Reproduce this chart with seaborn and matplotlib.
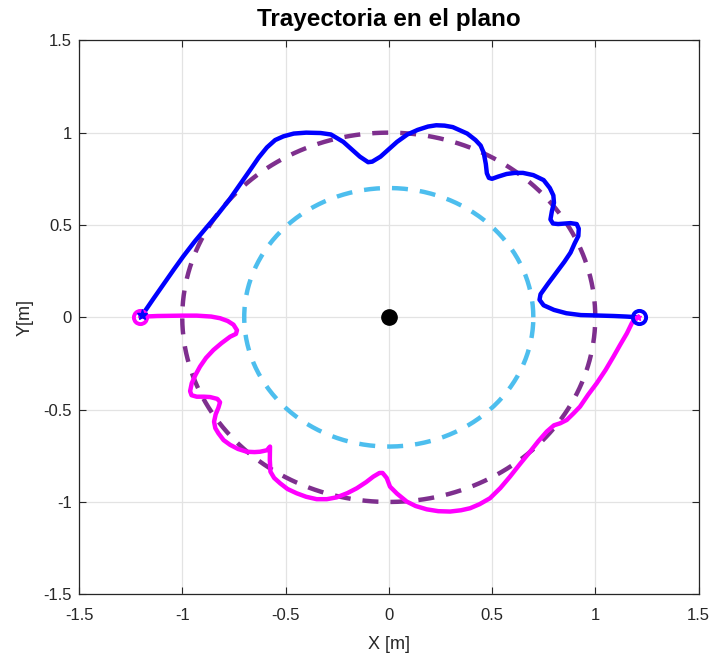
import numpy as np
import pandas as pd
import matplotlib
matplotlib.use("Agg")
import matplotlib.pyplot as plt
import seaborn as sns

# Robot trajectory (upper branch), x/y in metres
blue_x = [-1.195, -1.14, -1.09, -1.04, -0.995, -0.94, -0.88, -0.83, -0.77, -0.72,
          -0.67, -0.63, -0.59, -0.55, -0.51, -0.46, -0.40, -0.33, -0.28, -0.22,
          -0.18, -0.14, -0.10, -0.08, -0.04, 0.0, 0.04, 0.09, 0.14, 0.19,
          0.23, 0.27, 0.31, 0.35, 0.38, 0.42, 0.445, 0.46, 0.47, 0.475,
          0.485, 0.50, 0.53, 0.57, 0.61, 0.65, 0.70, 0.75, 0.78, 0.797,
          0.80, 0.79, 0.783, 0.795, 0.82, 0.88, 0.91, 0.92, 0.918, 0.90,
          0.88, 0.85, 0.81, 0.77, 0.735, 0.73, 0.75, 0.80, 0.86, 0.93,
          1.00, 1.09, 1.15, 1.21]
blue_y = [0.01, 0.10, 0.18, 0.26, 0.33, 0.41, 0.49, 0.555, 0.64, 0.72,
          0.80, 0.865, 0.92, 0.96, 0.98, 0.995, 1.0, 0.998, 0.99, 0.95,
          0.91, 0.87, 0.84, 0.843, 0.87, 0.91, 0.95, 0.99, 1.015, 1.033,
          1.04, 1.038, 1.03, 1.01, 0.995, 0.96, 0.93, 0.89, 0.83, 0.78,
          0.755, 0.75, 0.762, 0.776, 0.782, 0.782, 0.77, 0.743, 0.70, 0.66,
          0.62, 0.575, 0.53, 0.508, 0.505, 0.51, 0.505, 0.48, 0.44, 0.40,
          0.35, 0.30, 0.24, 0.18, 0.125, 0.095, 0.065, 0.04, 0.022, 0.012,
          0.01, 0.007, 0.004, 0.0]

# Robot trajectory (lower branch), x/y in metres
mag_x = [-1.204, -1.12, -1.0, -0.93, -0.86, -0.817, -0.78, -0.752, -0.735, -0.74,
         -0.768, -0.81, -0.849, -0.885, -0.914, -0.935, -0.954, -0.962, -0.955, -0.93,
         -0.895, -0.865, -0.83, -0.817, -0.825, -0.838, -0.846, -0.84, -0.825, -0.80,
         -0.768, -0.73, -0.688, -0.65, -0.623, -0.59, -0.575, -0.576, -0.573, -0.555,
         -0.526, -0.49, -0.446, -0.40, -0.349, -0.30, -0.252, -0.20, -0.155, -0.11,
         -0.075, -0.045, -0.03, -0.01, 0.006, 0.04, 0.087, 0.13, 0.184, 0.24,
         0.297, 0.35, 0.394, 0.44, 0.49, 0.54, 0.587, 0.635, 0.684, 0.725,
         0.765, 0.80, 0.83, 0.862, 0.895, 0.926, 0.965, 1.007, 1.05, 1.088,
         1.12, 1.153, 1.177, 1.19, 1.205]
mag_y = [0.003, 0.007, 0.009, 0.009, 0.004, -0.005, -0.02, -0.04, -0.07, -0.09,
         -0.105, -0.14, -0.177, -0.22, -0.267, -0.31, -0.357, -0.40, -0.422, -0.43,
         -0.43, -0.432, -0.442, -0.46, -0.49, -0.525, -0.565, -0.60, -0.628, -0.665,
         -0.691, -0.713, -0.728, -0.73, -0.728, -0.72, -0.70, -0.77, -0.836, -0.87,
         -0.899, -0.93, -0.953, -0.972, -0.985, -0.985, -0.975, -0.952, -0.926, -0.893,
         -0.863, -0.843, -0.843, -0.87, -0.917, -0.955, -0.998, -1.022, -1.04, -1.05,
         -1.052, -1.045, -1.034, -1.012, -0.98, -0.925, -0.863, -0.795, -0.728, -0.67,
         -0.619, -0.585, -0.574, -0.556, -0.52, -0.484, -0.42, -0.357, -0.285, -0.213,
         -0.15, -0.087, -0.032, -0.01, 0.0]

# Reference circles (radius in metres) and the centre point
outer_radius = 1.0
inner_radius = 0.7
center = (0.0, 0.0)

# Axis ticks
ticks = [-1.5, -1, -0.5, 0, 0.5, 1, 1.5]
tick_labels = ["-1.5", "-1", "-0.5", "0", "0.5", "1", "1.5"]

BLUE = "#0000FF"
MAGENTA = "#FF00FF"
PURPLE = "#7E2F8E"
LIGHTBLUE = "#4DBEEE"
AXC = "#262626"

sns.set_theme(style="whitegrid")
plt.rcParams["font.family"] = ["Liberation Sans", "DejaVu Sans"]

fig = plt.figure(figsize=(7.13, 6.62), dpi=100)
ax = fig.add_axes([0.1108, 0.1023, 0.8689, 0.8368])

theta = np.linspace(0, 2 * np.pi, 400)
circles = pd.DataFrame({
    "x": np.concatenate([outer_radius * np.cos(theta), inner_radius * np.cos(theta)]),
    "y": np.concatenate([outer_radius * np.sin(theta), inner_radius * np.sin(theta)]),
    "ring": ["outer"] * len(theta) + ["inner"] * len(theta),
})
lw = 3.2
dash = (3.6, 2.7)
sns.lineplot(data=circles[circles.ring == "outer"], x="x", y="y", sort=False,
             estimator=None, color=PURPLE, lw=lw, ax=ax, legend=False)
sns.lineplot(data=circles[circles.ring == "inner"], x="x", y="y", sort=False,
             estimator=None, color=LIGHTBLUE, lw=lw, ax=ax, legend=False)
for ln in ax.lines:
    ln.set_dashes(dash)
    ln.set_dash_capstyle("butt")

upper = pd.DataFrame({"x": blue_x, "y": blue_y})
lower = pd.DataFrame({"x": mag_x, "y": mag_y})
sns.lineplot(data=upper, x="x", y="y", sort=False, estimator=None,
             color=BLUE, lw=lw, ax=ax)
sns.lineplot(data=lower, x="x", y="y", sort=False, estimator=None,
             color=MAGENTA, lw=lw, ax=ax)
for ln in ax.lines[2:]:
    ln.set_solid_joinstyle("round")
    ln.set_solid_capstyle("round")

# start / end markers
ax.plot([blue_x[-1]], [blue_y[-1]], marker="o", ms=9.5, mfc="none", mec=BLUE, mew=2.8, ls="none")
ax.plot([mag_x[0]], [mag_y[0]], marker="o", ms=9.5, mfc="none", mec=MAGENTA, mew=2.8, ls="none")
ax.plot([blue_x[0]], [blue_y[0]], marker="*", ms=8, color=BLUE, mew=1, ls="none")
ax.plot([mag_x[-1]], [mag_y[-1]], marker="*", ms=5, color=MAGENTA, mew=1, ls="none")
ax.plot([center[0]], [center[1]], marker="o", ms=11, color="black", ls="none")

ax.set_xlim(-1.5, 1.5)
ax.set_ylim(-1.5, 1.5)
ax.set_xticks(ticks)
ax.set_yticks(ticks)
ax.set_xticklabels(tick_labels)
ax.set_yticklabels(tick_labels)
ax.grid(True, color="#E3E3E3", lw=0.9)
ax.set_facecolor("white")
for s in ax.spines.values():
    s.set_visible(True)
    s.set_color(AXC)
    s.set_linewidth(0.9)
ax.tick_params(which="both", direction="in", length=5, width=0.8, color=AXC,
               top=True, right=True, bottom=True, left=True,
               labelsize=12, labelcolor=AXC)
ax.tick_params(axis="x", pad=10)
ax.tick_params(axis="y", pad=5)

ax.set_xlabel("X [m]", fontsize=13, color=AXC, labelpad=9)
ax.set_ylabel("Y[m]", fontsize=13, color=AXC, labelpad=7)
ax.set_title("Trayectoria en el plano", fontsize=17.5, fontweight="bold", color="black", pad=10)

fig.savefig("out.png", dpi=100, facecolor="white")
